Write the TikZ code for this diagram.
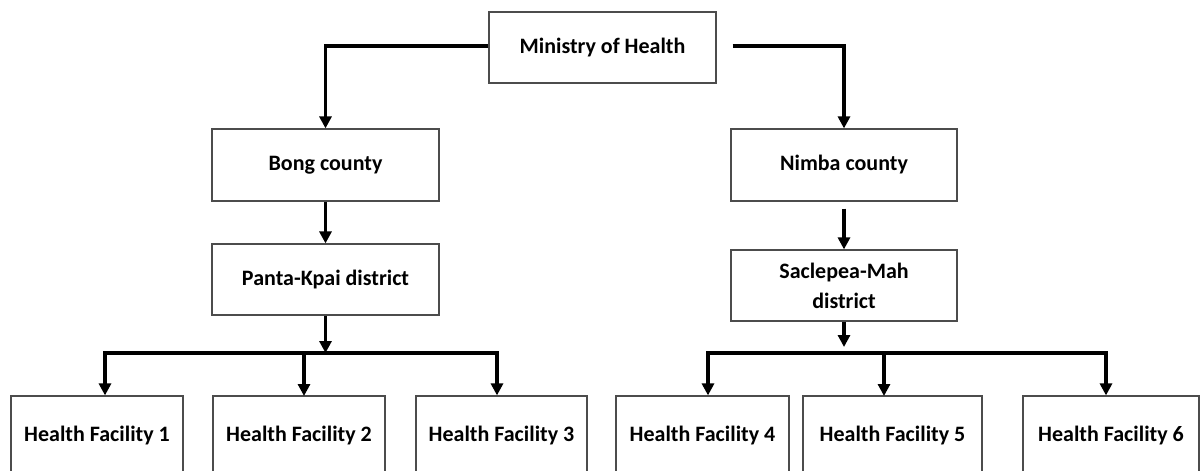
\documentclass[tikz,border=0pt]{standalone}
\usepackage{fontspec}
\setmainfont{Carlito}
\usetikzlibrary{arrows.meta,calc}
\begin{document}
\begin{tikzpicture}[x=1pt,y=-1pt,
  box/.style={draw=black!70,line width=1.2pt,fill=white,inner sep=0pt,font=\fontsize{22}{26}\selectfont\bfseries,align=center},
  conn/.style={line width=3.6pt,line cap=rect},
  arr/.style={line width=3.6pt,-{Triangle[length=12pt,width=12pt]}}]
\useasboundingbox (0,0) rectangle (1200,471);
\clip (0,0) rectangle (1200,471);
\node[box,minimum width=227pt,minimum height=71pt] (min) at (602.5,47.5) {Ministry of Health};
\node[box,minimum width=227pt,minimum height=72pt] (bong) at (325.5,165) {Bong county};
\node[box,minimum width=226pt,minimum height=72pt] (nimba) at (844,165) {Nimba county};
\node[box,minimum width=227pt,minimum height=71pt] (panta) at (325.5,279.5) {Panta-Kpai district};
\node[box,minimum width=226pt,minimum height=71pt] (sac) at (844,285.5) {Saclepea-Mah\\[4pt]district};
\node[box,minimum width=172pt,minimum height=80pt] (f1) at (97,436) {Health Facility 1};
\node[box,minimum width=172pt,minimum height=80pt] (f2) at (299,436) {Health Facility 2};
\node[box,minimum width=171pt,minimum height=80pt] (f3) at (501.5,436) {Health Facility 3};
\node[box,minimum width=173pt,minimum height=80pt] (f4) at (702.5,436) {Health Facility 4};
\node[box,minimum width=179pt,minimum height=80pt] (f5) at (892.5,436) {Health Facility 5};
\node[box,minimum width=176pt,minimum height=80pt] (f6) at (1111,436) {Health Facility 6};
% connectors from Ministry
\coordinate (mr) at ($(min.east)+(16,-1.5)$);
\draw[arr] ($(min.west)+(0,-1.5)$) -| (bong.north);
\draw[arr] (mr) -| (nimba.north);
% county -> district
\draw[arr] (bong.south) -- (panta.north);
\draw[arr,shorten <=7pt] (nimba.south) -- (sac.north);
% left bar
\coordinate (lb) at (105,353);
\coordinate (rb) at (497,353);
\coordinate (lm) at (panta.south |- lb);
\draw[arr] (panta.south) -- (lm);
\draw[conn] (lb) -- (rb);
\draw[arr] (lb) -- (lb |- f1.north);
\draw[arr] (304,353) -- (304,396);
\draw[arr] (rb) -- (rb |- f3.north);
% right bar
\coordinate (lb2) at (708,353);
\coordinate (rb2) at (1106,353);
\draw[arr,shorten >=6pt] (sac.south) -- (sac.south |- lb2);
\draw[conn] (lb2) -- (rb2);
\draw[arr] (lb2) -- (lb2 |- f4.north);
\draw[arr] (884,353) -- (884,396);
\draw[arr] (rb2) -- (rb2 |- f6.north);
\end{tikzpicture}
\end{document}
